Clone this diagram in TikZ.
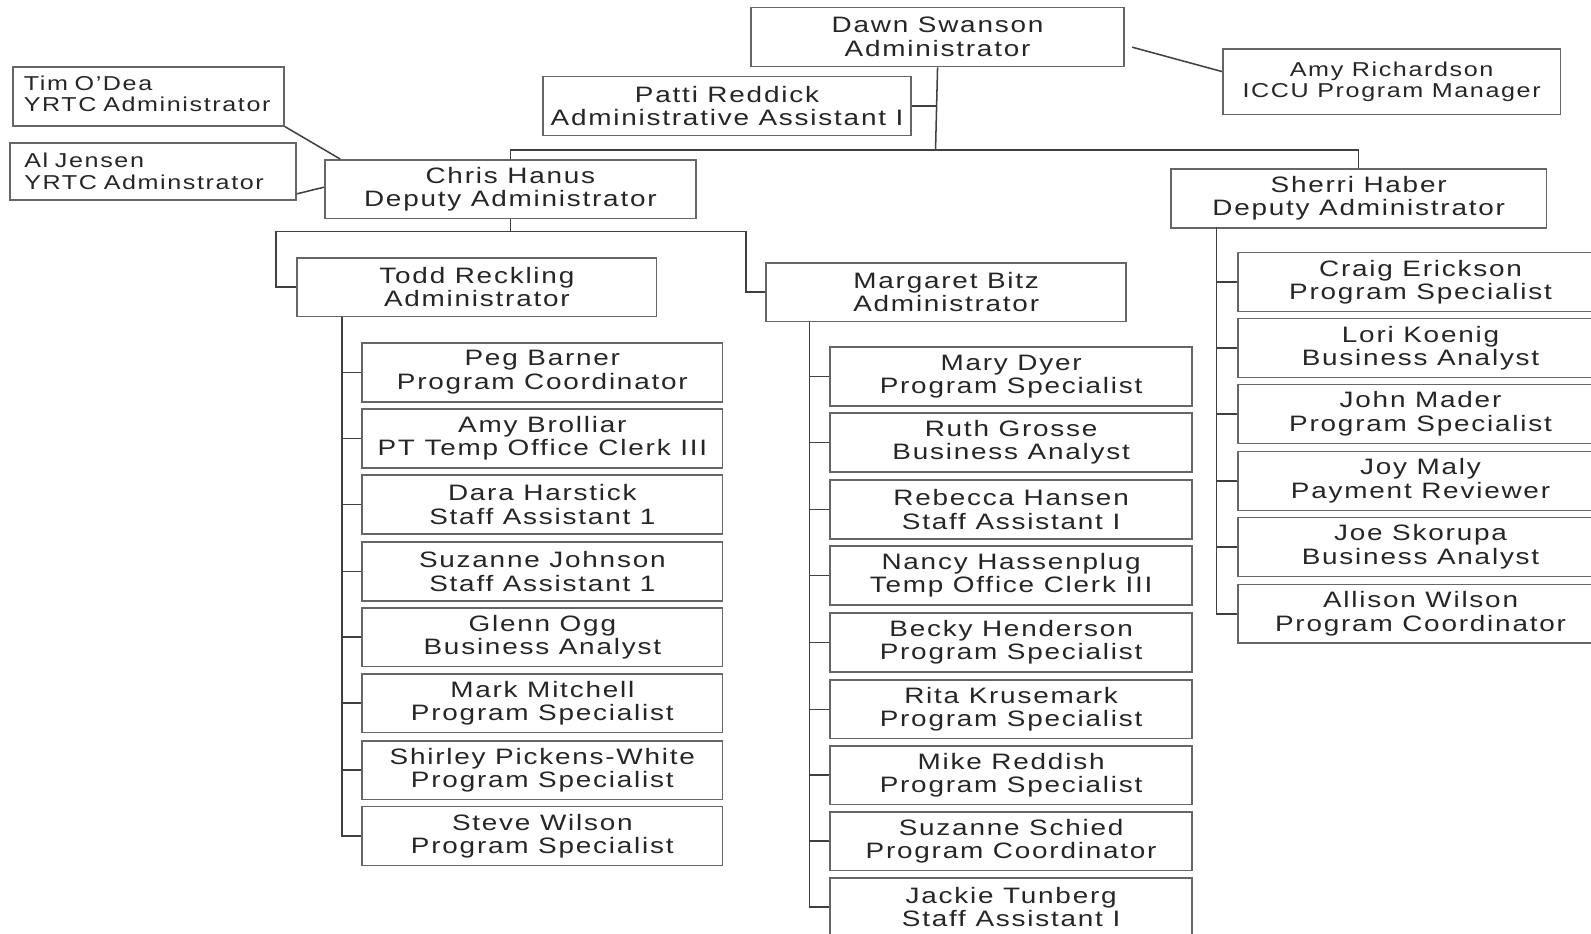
\documentclass[tikz,border=0pt]{standalone}
\usepackage{fontspec}
\setmainfont{Liberation Sans}[FakeStretch=1.25,LetterSpace=8]
\begin{document}
\begin{tikzpicture}[x=0.5pt,y=-0.5pt,
    box/.style={draw=black!60,line width=0.8pt,align=center,inner sep=0pt,text=black!85,
      font=\fontsize{11}{11.6}\selectfont,minimum height=29pt},
    side/.style={box,font=\fontsize{9.9}{10.6}\selectfont},
    link/.style={draw=black!75,line width=0.75pt}]
      \clip (0,0) rectangle (1568,920);
      \fill[white] (0,0) rectangle (1568,920);
      \draw
        (924,36.5) node[box,minimum width=184pt] (swanson){Dawn Swanson\\Administrator}
        (1371.5,80.5) node[side,minimum width=166.5pt,minimum height=32.5pt] (richardson){Amy Richardson\\ICCU Program Manager}
        (146.5,95) node[side,minimum width=133.5pt,align=left,text width=123pt] (odea){Tim O'Dea\\YRTC Administrator\\[-8pt]\mbox{}}
        (151,169) node[side,minimum width=141pt,align=left,text width=127pt,minimum height=28pt] (jensen){Al Jensen\\YRTC Adminstrator}
        (716.5,104.5) node[box,minimum width=181.5pt] (reddick){Patti Reddick\\Administrative Assistant I}
        (503,186.5) node[box,minimum width=183pt] (hanus){Chris Hanus\\Deputy Administrator}
        (1339,195.5) node[box,minimum width=185pt] (haber){Sherri Haber\\Deputy Administrator}
        (470,283) node[box,minimum width=177pt] (reckling){Todd Reckling\\Administrator}
        (932.5,288) node[box,minimum width=177.5pt] (bitz){Margaret Bitz\\Administrator};
      \draw
        (534.5,367) node[box,minimum width=177.5pt] (barner){Peg Barner\\Program Coordinator}
        (534.5,432) node[box,minimum width=177.5pt] (brolliar){Amy Brolliar\\PT Temp Office Clerk III}
        (534.5,497) node[box,minimum width=177.5pt] (harstick){Dara Harstick\\Staff Assistant 1}
        (534.5,563) node[box,minimum width=177.5pt] (johnson){Suzanne Johnson\\Staff Assistant 1}
        (534.5,628) node[box,minimum width=177.5pt] (ogg){Glenn Ogg\\Business Analyst}
        (534.5,693) node[box,minimum width=177.5pt] (mitchell){Mark Mitchell\\Program Specialist}
        (534.5,759) node[box,minimum width=177.5pt] (pickens){Shirley Pickens-White\\Program Specialist}
        (534.5,824) node[box,minimum width=177.5pt] (swilson){Steve Wilson\\Program Specialist};
      \draw
        (996.5,371) node[box,minimum width=178.5pt] (dyer){Mary Dyer\\Program Specialist}
        (996.5,436) node[box,minimum width=178.5pt] (grosse){Ruth Grosse\\Business Analyst}
        (996.5,502) node[box,minimum width=178.5pt] (hansen){Rebecca Hansen\\Staff Assistant I}
        (996.5,567) node[box,minimum width=178.5pt] (hassenplug){Nancy Hassenplug\\Temp Office Clerk III}
        (996.5,633) node[box,minimum width=178.5pt] (henderson){Becky Henderson\\Program Specialist}
        (996.5,699) node[box,minimum width=178.5pt] (krusemark){Rita Krusemark\\Program Specialist}
        (996.5,764) node[box,minimum width=178.5pt] (reddish){Mike Reddish\\Program Specialist}
        (996.5,829) node[box,minimum width=178.5pt] (schied){Suzanne Schied\\Program Coordinator}
        (996.5,894) node[box,minimum width=178.5pt] (tunberg){Jackie Tunberg\\Staff Assistant I};
      \draw
        (1400,278) node[box,minimum width=180pt] (erickson){Craig Erickson\\Program Specialist}
        (1400,343) node[box,minimum width=180pt] (koenig){Lori Koenig\\Business Analyst}
        (1400,408) node[box,minimum width=180pt] (mader){John Mader\\Program Specialist}
        (1400,474) node[box,minimum width=180pt] (maly){Joy Maly\\Payment Reviewer}
        (1400,539) node[box,minimum width=180pt] (skorupa){Joe Skorupa\\Business Analyst}
        (1400,605) node[box,minimum width=180pt] (awilson){Allison Wilson\\Program Coordinator};
      \coordinate (topbar) at (922,148);
      \coordinate (midleft) at (272,228);
      \coordinate (midright) at (735,228);
      \coordinate (rtrunk) at (337,312);
      \coordinate (btrunk) at (798,317);
      \coordinate (htrunk) at (1199,224);
      \begin{scope}[link]
        \draw ([shift={(3.5pt,-5pt)}]swanson.east) to ([yshift=5pt]richardson.west);
        \draw (swanson.south) to (topbar);
        \draw (reddick.east) to (reddick.east -| topbar);
        \draw (hanus.north) |- (topbar) -| (haber.north);
        \draw (odea.south east) to ([xshift=8pt]hanus.north west);
        \draw ([yshift=-11pt]jensen.east) to ([yshift=1pt]hanus.west);
        \draw (hanus.south) to (hanus.south |- midleft);
        \draw (reckling.west) -| (midleft) -- (midright) |- (bitz.west);
        \draw (rtrunk) |- (swilson.west);
        \draw (barner.west) to (barner.west -| rtrunk);
        \draw (brolliar.west) to (brolliar.west -| rtrunk);
        \draw (harstick.west) to (harstick.west -| rtrunk);
        \draw (johnson.west) to (johnson.west -| rtrunk);
        \draw (ogg.west) to (ogg.west -| rtrunk);
        \draw (mitchell.west) to (mitchell.west -| rtrunk);
        \draw (pickens.west) to (pickens.west -| rtrunk);
        \draw (btrunk) |- (tunberg.west);
        \draw (dyer.west) to (dyer.west -| btrunk);
        \draw (grosse.west) to (grosse.west -| btrunk);
        \draw (hansen.west) to (hansen.west -| btrunk);
        \draw (hassenplug.west) to (hassenplug.west -| btrunk);
        \draw (henderson.west) to (henderson.west -| btrunk);
        \draw (krusemark.west) to (krusemark.west -| btrunk);
        \draw (reddish.west) to (reddish.west -| btrunk);
        \draw (schied.west) to (schied.west -| btrunk);
        \draw (htrunk) |- (awilson.west);
        \draw (erickson.west) to (erickson.west -| htrunk);
        \draw (koenig.west) to (koenig.west -| htrunk);
        \draw (mader.west) to (mader.west -| htrunk);
        \draw (maly.west) to (maly.west -| htrunk);
        \draw (skorupa.west) to (skorupa.west -| htrunk);
      \end{scope}
    \end{tikzpicture}
\end{document}
